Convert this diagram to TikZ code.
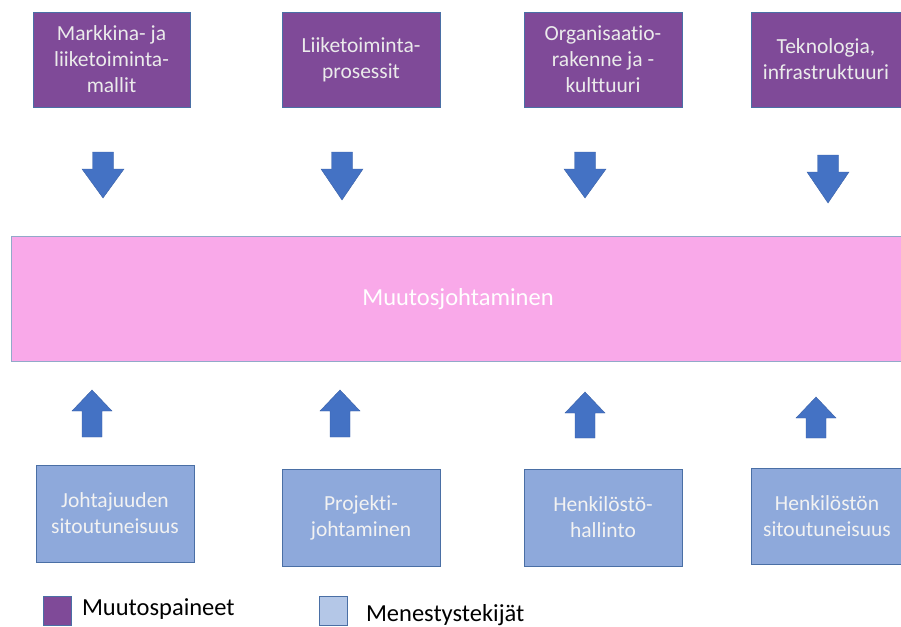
\documentclass[tikz,border=0pt]{standalone}
\usepackage{fontspec}
\setmainfont{Carlito}[Ligatures={NoCommon}]
\definecolor{pressure}{HTML}{7F4A98}
\definecolor{success}{HTML}{8EA9DB}
\definecolor{successlight}{HTML}{B4C7E7}
\definecolor{changefill}{HTML}{F9A9E9}
\definecolor{edgeblue}{HTML}{4A6FA5}
\definecolor{arrowblue}{HTML}{4472C4}
\begin{document}
\begin{tikzpicture}[x=1pt,y=-1pt,
  every node/.style={inner sep=0pt,outer sep=0pt},
  pressurebox/.style={draw=edgeblue,line width=0.7pt,fill=pressure,text=white!92!black,
    font=\fontsize{21.5}{26}\selectfont,align=center,anchor=north west},
  successbox/.style={draw=edgeblue,line width=0.7pt,fill=success,text=white!95!black,
    font=\fontsize{21.5}{26}\selectfont,align=center,anchor=north west},
  blockarrow/.style={fill=arrowblue,draw=arrowblue!85!black,line width=0.4pt},
  legendlabel/.style={font=\fontsize{24.5}{28}\selectfont,anchor=west,text=black}]
\useasboundingbox (0,0) rectangle (901,626);

% upper row: pressures for change
\node[pressurebox,minimum width=157pt,minimum height=95pt] (p1) at (33,12) {Markkina- ja\\liiketoiminta-\\mallit};
\node[pressurebox,minimum width=158pt,minimum height=95pt] (p2) at (282,12) {Liiketoiminta-\\prosessit};
\node[pressurebox,minimum width=158pt,minimum height=95pt] (p3) at (524,12) {Organisaatio-\\rakenne ja -\\kulttuuri};
\node[pressurebox,minimum width=150pt,minimum height=95pt] (p4) at (751,12) {Teknologia,\\infrastruktuuri};

% central band
\node[draw=edgeblue!60!white,line width=0.9pt,fill=changefill,anchor=north west,
  minimum width=900pt,minimum height=125pt] (change) at (11,236) {};
\node[text=white,font=\fontsize{24.5}{28}\selectfont] (changelabel) at (458,299) {Muutosjohtaminen};

% lower row: success factors
\node[successbox,minimum width=158pt,minimum height=97pt] (s1) at (36,465) {Johtajuuden\\sitoutuneisuus};
\node[successbox,minimum width=158pt,minimum height=97pt] (s2) at (282,469) {Projekti-\\johtaminen};
\node[successbox,minimum width=158pt,minimum height=97pt] (s3) at (524,469) {Henkilöstö-\\hallinto};
\node[successbox,minimum width=152pt,minimum height=96pt] (s4) at (751,468) {Henkilöstön\\sitoutuneisuus};

% block arrows: down (cx, top, bottom) and up (cx, tip, bottom)
\newcommand\arrowdown[3]{%
  \path[blockarrow] (#1-10.5,#2) -- (#1+10.5,#2) -- (#1+10.5,#2+17) -- (#1+21,#2+17)
    -- (#1,#3) -- (#1-21,#2+17) -- (#1-10.5,#2+17) -- cycle;}
\newcommand\arrowup[3]{%
  \path[blockarrow] (#1-10,#3) -- (#1+10,#3) -- (#1+10,#2+21) -- (#1+20,#2+21)
    -- (#1,#2) -- (#1-20,#2+21) -- (#1-10,#2+21) -- cycle;}
\arrowdown{103}{152}{198}
\arrowdown{342}{152}{200}
\arrowdown{585}{152}{198}
\arrowdown{828}{155}{203}
\arrowup{92}{390}{437}
\arrowup{340}{390}{437}
\arrowup{585}{392}{438}
\arrowup{816}{397}{438}

% legend
\node[draw=edgeblue,line width=0.7pt,fill=pressure,minimum width=28pt,minimum height=29pt,anchor=north west] (legp) at (43,596) {};
\node[legendlabel] (legptext) at (82,609) {Muutospaineet};
\node[draw=edgeblue,line width=0.7pt,fill=successlight,minimum width=28pt,minimum height=29pt,anchor=north west] (legs) at (319,596) {};
\node[legendlabel] (legstext) at (366,615) {Menestystekijät};
\end{tikzpicture}
\end{document}
